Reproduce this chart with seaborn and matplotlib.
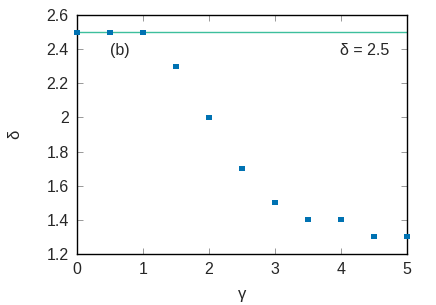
import matplotlib
matplotlib.use("Agg")
import matplotlib.pyplot as plt
import seaborn as sns
import pandas as pd

gamma = [0, 0.5, 1, 1.5, 2, 2.5, 3, 3.5, 4, 4.5, 5]
delta = [2.5, 2.5, 2.5, 2.3, 2.0, 1.7, 1.5, 1.4, 1.4, 1.3, 1.3]
delta_ref = 2.5
xticks = [0, 1, 2, 3, 4, 5]
yticks = [1.2, 1.4, 1.6, 1.8, 2.0, 2.2, 2.4, 2.6]
ytick_labels = ["1.2", "1.4", "1.6", "1.8", "2", "2.2", "2.4", "2.6"]

sns.set_style("ticks")
plt.rcParams['font.family'] = ['Liberation Sans', 'DejaVu Sans']

df = pd.DataFrame({"gamma": gamma, "delta": delta})
fig = plt.figure(figsize=(4.36, 3.05), dpi=100)
ax = fig.add_axes([77/436, 1-254/305, (407-77)/436, (254-15)/305])

ax.axhline(delta_ref, color="#3dbf9d", lw=1.0, zorder=1)
sns.scatterplot(data=df, x="gamma", y="delta", marker="s", s=13, color="#0072b2",
                edgecolor="none", ax=ax, zorder=3, clip_on=False)

ax.set_xlim(0, 5)
ax.set_ylim(1.2, 2.6)
ax.set_xticks(xticks)
ax.set_xticklabels([str(t) for t in xticks])
ax.set_yticks(yticks)
ax.set_yticklabels(ytick_labels)
ax.tick_params(direction="in", top=True, right=True, length=4, width=0.6,
               labelsize=11.5, color="#888888", pad=6)
for s in ax.spines.values():
    s.set_linewidth(1.0)
    s.set_color("black")
ax.set_xlabel("γ", fontsize=12)
ax.set_ylabel("δ", fontsize=12)
ax.xaxis.set_label_coords(0.5, -0.14)
ax.yaxis.set_label_coords(-0.165, 0.5)
ax.text(0.65, 2.39, "(b)", fontsize=11.5, ha="center", va="center")
ax.text(4.36, 2.39, "δ = 2.5", fontsize=11.5, ha="center", va="center")

fig.savefig("out.png", dpi=100)
